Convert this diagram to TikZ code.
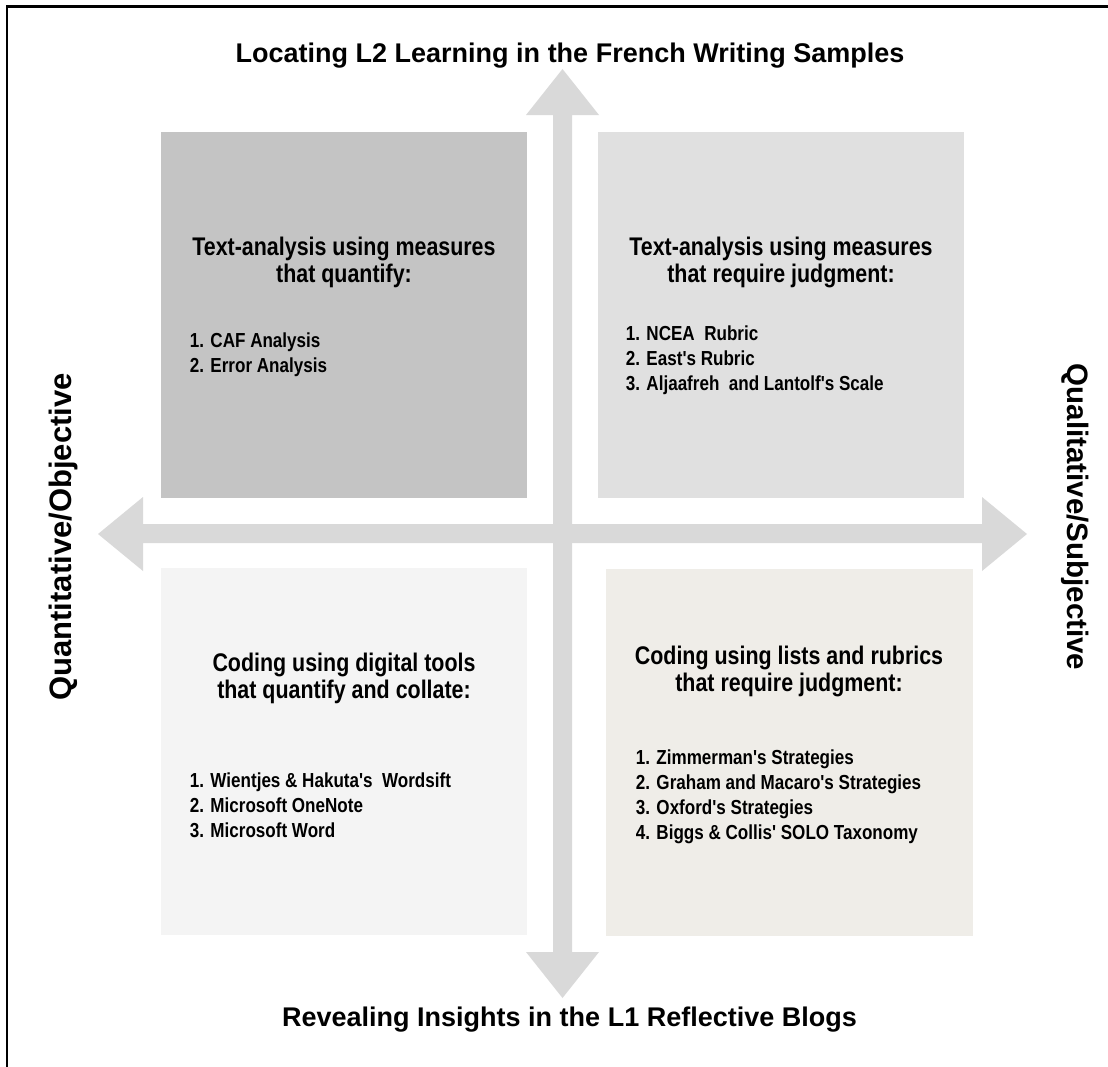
\documentclass[tikz,border=0pt]{standalone}
\usepackage{fontspec}
\setmainfont{Liberation Sans}
\newfontfamily\narrowfont[FakeStretch=0.84]{Liberation Sans}
\usepackage{tikz}
\usetikzlibrary{calc}
\usetikzlibrary{positioning}

\definecolor{arrowgrey}{HTML}{D9D9D9}
\definecolor{boxdark}{HTML}{C4C4C4}
\definecolor{boxmid}{HTML}{E0E0E0}
\definecolor{boxpale}{HTML}{F4F4F4}
\definecolor{boxbeige}{HTML}{EFEDE8}

\tikzset{
  axistitle/.style={font=\bfseries\fontsize{27}{30}\selectfont, inner sep=0.75pt},
  sidetitle/.style={font=\bfseries\fontsize{30}{33}\selectfont, inner sep=0.75pt},
  headtxt/.style={font=\narrowfont\bfseries\fontsize{25.5}{27.5}\selectfont, align=center, inner sep=0.75pt},
  itemtxt/.style={font=\narrowfont\bfseries\fontsize{20.3}{25}\selectfont, align=left, inner sep=0.75pt}
}

\begin{document}
\begin{tikzpicture}[x=1pt,y=1pt,yscale=-1,xscale=1]
            \useasboundingbox (0,0) rectangle (1108,1066);

            %Frame
            \draw [line width=2.6] (1110,6.7) -- (7,6.7) -- (7,1068) ;

            %Shape: Arrow up and down
            \fill [arrowgrey] (553,115) -- (526,115) -- (562.5,69) -- (599,115) -- (572,115) -- (572,952) -- (599,952) -- (562.5,998) -- (526,952) -- (553,952) -- cycle ;
            %Shape: Arrow left and right
            \fill [arrowgrey] (143,524) -- (143,497) -- (98,534) -- (143,571) -- (143,543) -- (982,543) -- (982,571) -- (1027,534) -- (982,497) -- (982,524) -- cycle ;

            %Shape: Rectangles
            \fill [boxdark] (161,132) rectangle (527,498) ;
            \fill [boxmid] (598,132) rectangle (964,498) ;
            \fill [boxpale] (161,568) rectangle (527,935) ;
            \fill [boxbeige] (606,569) rectangle (973,936) ;

            % Text Node
            \node [axistitle, anchor=base] (toplbl) at (570,62) {Locating L2 Learning in the French Writing Samples};
            % Text Node
            \node [axistitle, anchor=base] (botlbl) at (569.5,1026) {Revealing Insights in the L1 Reflective Blogs};
            % Text Node
            \node [sidetitle, rotate=90, font=\bfseries\fontsize{31}{34}\selectfont] (leftlbl) at (63,537) {Quantitative/Objective};
            % Text Node
            \node [sidetitle, rotate=-90, font=\bfseries\fontsize{29.5}{32}\selectfont] (rightlbl) at (1075,517) {Qualitative/Subjective};

            % Text Node
            \node [headtxt, anchor=north] (tlhead) at (344,236) {Text-analysis using measures\\that quantify:};
            % Text Node
            \node [itemtxt, anchor=north west] (tlitems) at (189,332) {1. CAF Analysis\\2. Error Analysis};

            % Text Node
            \node [headtxt, anchor=north] (trhead) at (781,236) {Text-analysis using measures\\that require judgment:};
            % Text Node
            \node [itemtxt, anchor=north west] (tritems) at (625,325) {1. NCEA\ \ Rubric\\2. East's Rubric\\3. Aljaafreh\ \ and Lantolf's Scale};

            % Text Node
            \node [headtxt, anchor=north] (blhead) at (344,652) {Coding using digital tools\\that quantify and collate:};
            % Text Node
            \node [itemtxt, anchor=north west] (blitems) at (189,772) {1. Wientjes \& Hakuta's\ \ Wordsift\\2. Microsoft OneNote\\3. Microsoft Word};

            % Text Node
            \node [headtxt, anchor=north] (brhead) at (789,645) {Coding using lists and rubrics\\that require judgment:};
            % Text Node
            \node [itemtxt, anchor=north west] (britems) at (635,749) {1. Zimmerman's Strategies\\2. Graham and Macaro's Strategies\\3. Oxford's Strategies\\4. Biggs \& Collis' SOLO Taxonomy};

        \end{tikzpicture}
\end{document}
